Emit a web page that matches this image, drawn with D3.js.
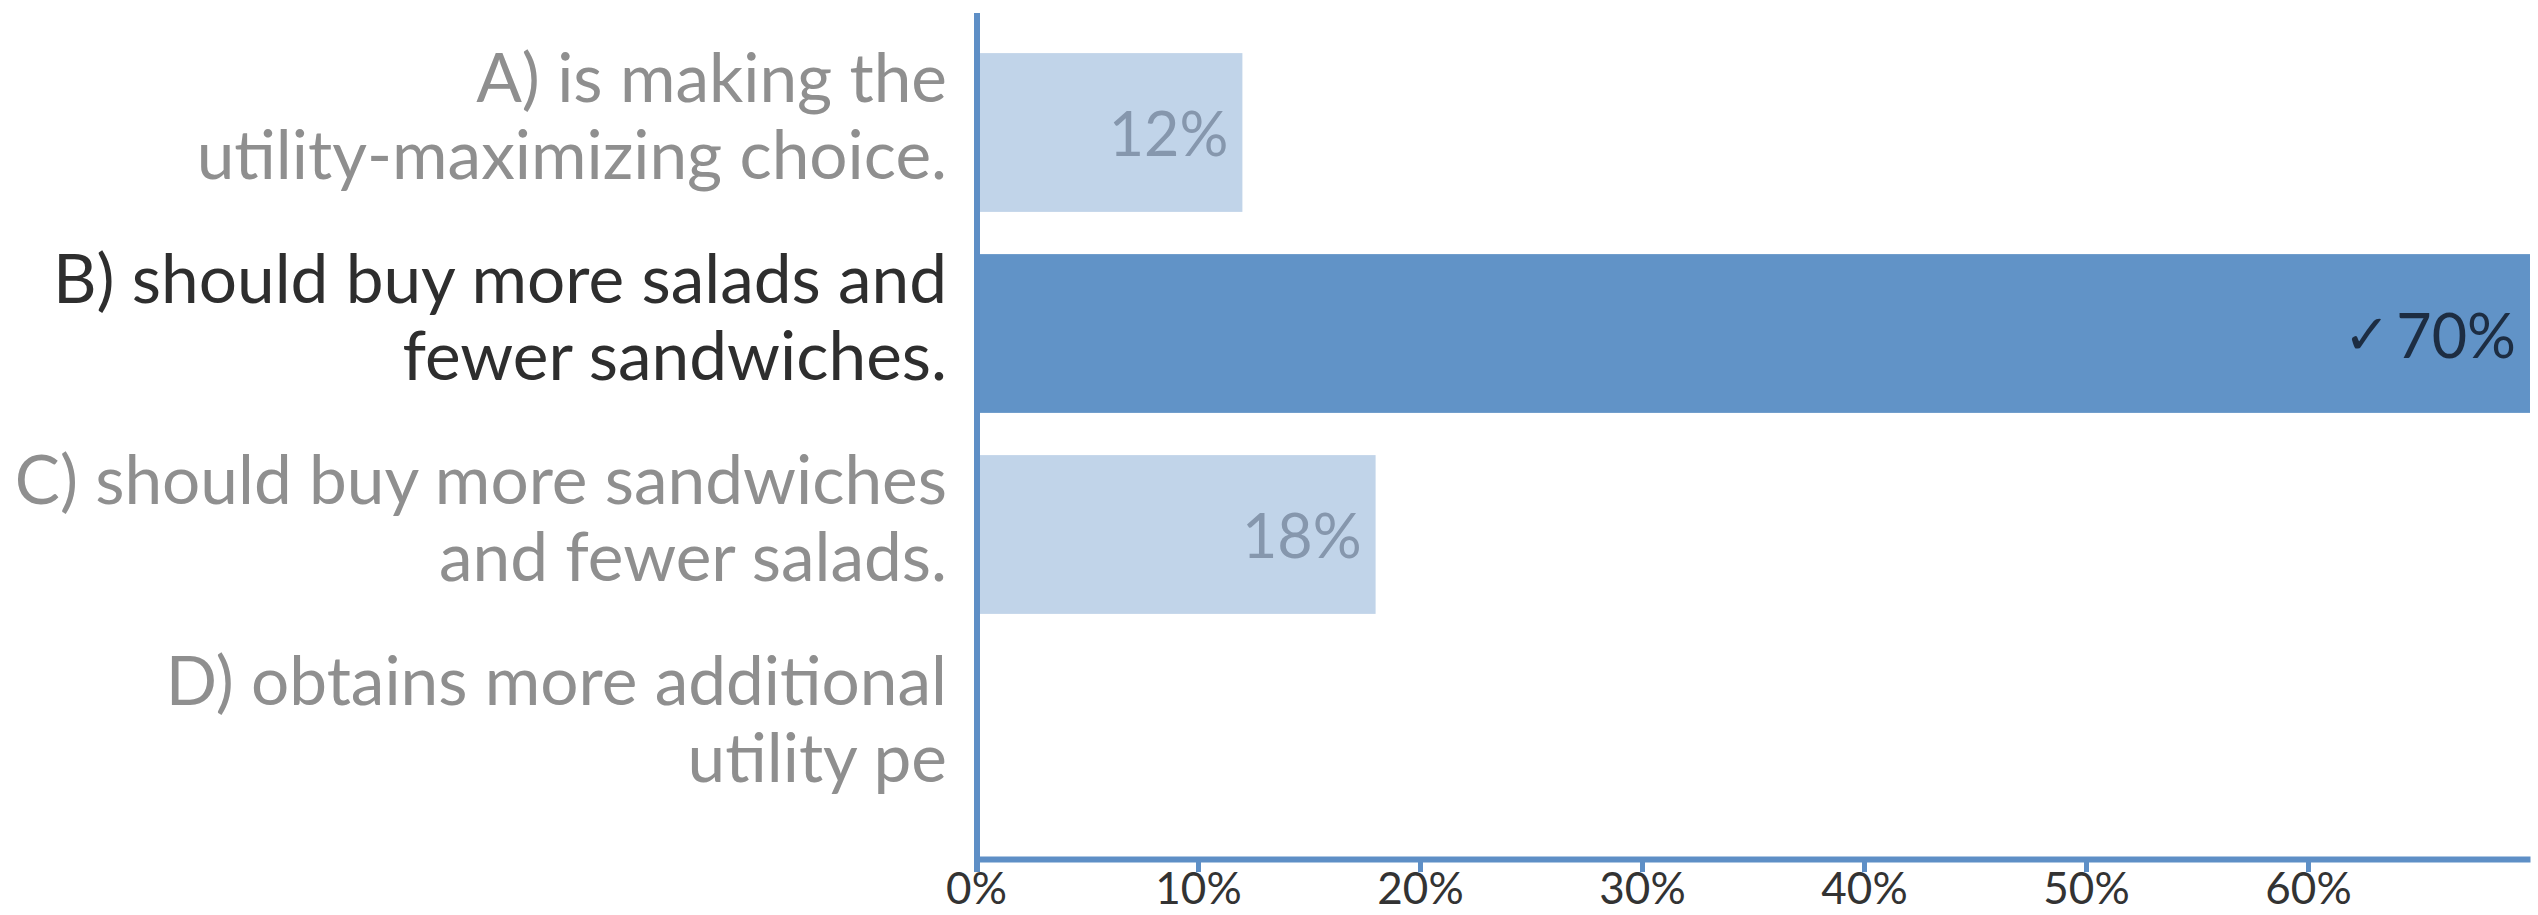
<!DOCTYPE html>
<html>
<head>
<meta charset="utf-8">
<script src="https://cdn.jsdelivr.net/npm/d3@7"></script>
<style>
  html, body { margin: 0; padding: 0; background: #ffffff; }
  svg { display: block; }
  text { font-family: Lato, "Open Sans", sans-serif; }
</style>
</head>
<body>
<svg id="chart" width="2538" height="915"></svg>
<script>
// Answer options, each split into the lines it is shown on
const categories = ["A", "B", "C", "D"];
const labelLines = [
  ["A) is making the", "utility-maximizing choice."],
  ["B) should buy more salads and", "fewer sandwiches."],
  ["C) should buy more sandwiches", "and fewer salads."],
  ["D) obtains more additional", "utility pe"]
];
// Share of responses for each option, in percent
const values = [12, 70, 18, 0];
const correctOption = "B";
const tickValues = [0, 10, 20, 30, 40, 50, 60];

const svg = d3.select("#chart");

const x = d3.scaleLinear().domain([0, 70]).range([976, 2530]);
const y = d3.scaleBand().domain(categories).range([32, 836])
  .paddingInner(0.21).paddingOuter(0.105);

const data = categories.map((c, i) => ({ key: c, lines: labelLines[i], value: values[i] }));

const axisBlue = "#5e8fc6";
const darkBar = "#6193c7";
const lightBar = "#c1d4e9";

// Bars
svg.append("g").selectAll("rect")
  .data(data)
  .join("rect")
  .attr("x", x(0))
  .attr("y", d => y(d.key))
  .attr("width", d => x(d.value) - x(0))
  .attr("height", y.bandwidth())
  .attr("fill", d => d.key === correctOption ? darkBar : lightBar);

// Value labels inside the bars
svg.append("g").selectAll("text")
  .data(data.filter(d => d.value > 0))
  .join("text")
  .attr("x", d => x(d.value) - 14)
  .attr("y", d => y(d.key) + y.bandwidth() / 2)
  .attr("text-anchor", "end")
  .attr("dominant-baseline", "central")
  .attr("font-size", 61)
  .attr("fill", d => d.key === correctOption ? "#1d2d42" : "#8697ad")
  .each(function (d) {
    const t = d3.select(this);
    if (d.key === correctOption) {
      t.append("tspan").attr("font-size", 56).attr("font-weight", "bold")
        .attr("font-family", "DejaVu Sans").text("✓");
      t.append("tspan").attr("dx", 6).text(d.value + "%");
    } else {
      t.text(d.value + "%");
    }
  });

// Category labels on the left
svg.append("g").selectAll("text")
  .data(data)
  .join("text")
  .attr("text-anchor", "end")
  .attr("font-size", 67.5)
  .attr("fill", d => d.key === correctOption ? "#2e2e2e" : "#8f8f8f")
  .each(function (d) {
    const cy = y(d.key) + y.bandwidth() / 2;
    d3.select(this).selectAll("tspan")
      .data(d.lines)
      .join("tspan")
      .attr("x", 947)
      .attr("y", (l, i) => cy + (i === 0 ? -31 : 46))
      .text(l => l);
  });

// Horizontal axis
const xAxis = svg.append("g")
  .attr("transform", "translate(0,859)")
  .call(d3.axisBottom(x).tickValues(tickValues).tickFormat(d => d + "%")
    .tickSize(13).tickSizeOuter(0).tickPadding(1));
xAxis.select(".domain").attr("stroke", axisBlue).attr("stroke-width", 6);
xAxis.selectAll(".tick line").attr("stroke", axisBlue).attr("stroke-width", 5);
xAxis.selectAll(".tick text")
  .attr("font-size", 44)
  .attr("font-family", "Lato, sans-serif")
  .attr("fill", "#333333");

// Vertical axis line
svg.append("line")
  .attr("x1", x(0) + 1).attr("x2", x(0) + 1)
  .attr("y1", 13).attr("y2", 872)
  .attr("stroke", axisBlue)
  .attr("stroke-width", 6);
</script>
</body>
</html>
